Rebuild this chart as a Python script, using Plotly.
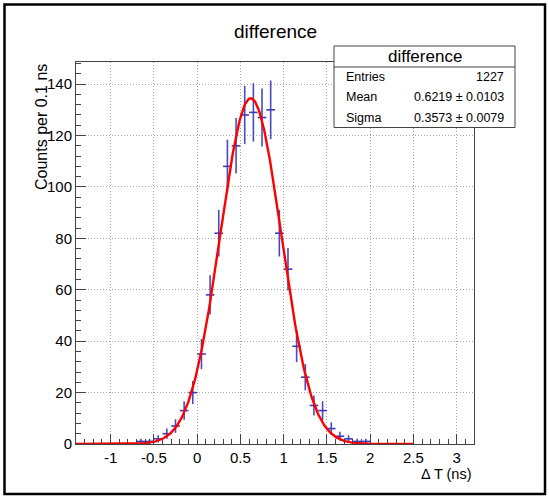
import numpy as np
import plotly.graph_objects as go

# ---------------- data ----------------
bin_centers = [-0.65, -0.55, -0.45, -0.35, -0.25, -0.15, -0.05, 0.05, 0.15, 0.25,
               0.35, 0.45, 0.55, 0.65, 0.75, 0.85, 0.95, 1.05, 1.15, 1.25,
               1.35, 1.45, 1.55, 1.65, 1.75, 1.85, 1.95]
counts = [1, 1, 2, 4, 7, 13, 20, 35, 58, 82,
          108, 116, 128, 129, 127, 130, 82, 68, 38, 26,
          15, 13, 6, 3, 2, 1, 1]
bin_width = 0.1

fit_const = 134.5
fit_mean = 0.62
fit_sigma = 0.352
fit_range = [-1.4, 2.5]

x_tick_vals = [-1, -0.5, 0, 0.5, 1, 1.5, 2, 2.5, 3]
x_tick_text = ["-1", "-0.5", "0", "0.5", "1", "1.5", "2", "2.5", "3"]
y_tick_vals = [0, 20, 40, 60, 80, 100, 120, 140]
y_tick_text = ["0", "20", "40", "60", "80", "100", "120", "140"]

stats_title = "difference"
stats_rows = [("Entries", "1227"), ("Mean", "0.6219 ± 0.0103"), ("Sigma", "0.3573 ± 0.0079")]

# ---------------- geometry ----------------
W, H = 549, 498
L, R, T, B = 76, 474, 62, 444
x_range = [-1.4, 3.2]
y_range = [0, 148.6]

def px(xp):
    return (xp - L) / (R - L)

def py(yp):
    return (B - yp) / (B - T)

FONT = "Liberation Sans, Arial, Helvetica, sans-serif"

errors = np.sqrt(np.array(counts, dtype=float))
fit_x = np.linspace(fit_range[0], fit_range[1], 400)
fit_y = fit_const * np.exp(-0.5 * ((fit_x - fit_mean) / fit_sigma) ** 2)

fig = go.Figure()
fig.add_trace(go.Scatter(
    x=bin_centers, y=counts, mode="markers",
    marker=dict(size=1, color="#3c3cb4"),
    error_y=dict(type="data", array=errors, visible=True, width=0,
                 thickness=1.6, color="#4a4ac0"),
    error_x=dict(type="constant", value=bin_width / 2, visible=True, width=0,
                 thickness=1.6, color="#3c3cb4"),
    hoverinfo="skip", showlegend=False,
))
fig.add_trace(go.Scatter(
    x=fit_x, y=fit_y, mode="lines",
    line=dict(color="#ff0000", width=2.4),
    hoverinfo="skip", showlegend=False,
))

axis_common = dict(
    showline=True, linecolor="#444444", linewidth=1, mirror=True,
    ticks="inside", tickcolor="#444444", tickwidth=1, ticklen=10,
    showgrid=True, gridcolor="#a8a8a8", gridwidth=1, griddash="1px,2px",
    zeroline=False, tickfont=dict(size=15, color="black", family=FONT),
)

fig.update_layout(
    width=W, height=H,
    margin=dict(l=L, r=W - R, t=T, b=H - B, pad=0),
    paper_bgcolor="white", plot_bgcolor="white",
    font=dict(family=FONT, color="black"),
    xaxis=dict(range=x_range, tickmode="array", tickvals=x_tick_vals, ticktext=x_tick_text,
               minor=dict(ticks="inside", ticklen=5, tickcolor="#444444", dtick=0.1,
                          tick0=0, showgrid=False),
               **axis_common),
    yaxis=dict(range=y_range, tickmode="array", tickvals=y_tick_vals, ticktext=y_tick_text,
               minor=dict(ticks="inside", ticklen=5, tickcolor="#444444", dtick=4,
                          tick0=0, showgrid=False),
               **axis_common),
)

shapes = []
# outer canvas border
shapes.append(dict(type="rect", xref="paper", yref="paper",
                   x0=px(4.5), x1=px(545), y0=py(4.5), y1=py(494),
                   line=dict(color="black", width=2.5), fillcolor="rgba(0,0,0,0)",
                   layer="above"))
# stats box
shapes.append(dict(type="rect", xref="paper", yref="paper",
                   x0=px(334), x1=px(515), y0=py(46), y1=py(127.5),
                   line=dict(color="#444444", width=1), fillcolor="white", layer="above"))
shapes.append(dict(type="line", xref="paper", yref="paper",
                   x0=px(334), x1=px(515), y0=py(67), y1=py(67),
                   line=dict(color="#444444", width=1), layer="above"))
fig.update_layout(shapes=shapes)

ann = []
ann.append(dict(text="difference", xref="paper", yref="paper", x=px(275), y=py(31),
                xanchor="center", yanchor="middle", showarrow=False,
                font=dict(size=19, family=FONT, color="black")))
ann.append(dict(text=stats_title, xref="paper", yref="paper", x=px(424.5), y=py(56.5),
                xanchor="center", yanchor="middle", showarrow=False,
                font=dict(size=17, family=FONT, color="black")))
row_y = [77, 97.5, 118]
for (lab, val), ry in zip(stats_rows, row_y):
    ann.append(dict(text=lab, xref="paper", yref="paper", x=px(344), y=py(ry),
                    xanchor="left", yanchor="middle", showarrow=False,
                    font=dict(size=12.5, family=FONT, color="black")))
    ann.append(dict(text=val, xref="paper", yref="paper", x=px(506), y=py(ry),
                    xanchor="right", yanchor="middle", showarrow=False,
                    font=dict(size=12.5, family=FONT, color="black")))
ann.append(dict(text="Δ T (ns)", xref="paper", yref="paper", x=1.0, y=py(474),
                xanchor="right", yanchor="middle", showarrow=False,
                font=dict(size=14.5, family=FONT, color="black")))
ann.append(dict(text="Counts per 0.1 ns", xref="paper", yref="paper", x=px(41), y=1.0,
                xanchor="center", yanchor="top", textangle=-90, showarrow=False,
                font=dict(size=16, family=FONT, color="black")))
fig.update_layout(annotations=ann)

fig.write_html("out.html")
